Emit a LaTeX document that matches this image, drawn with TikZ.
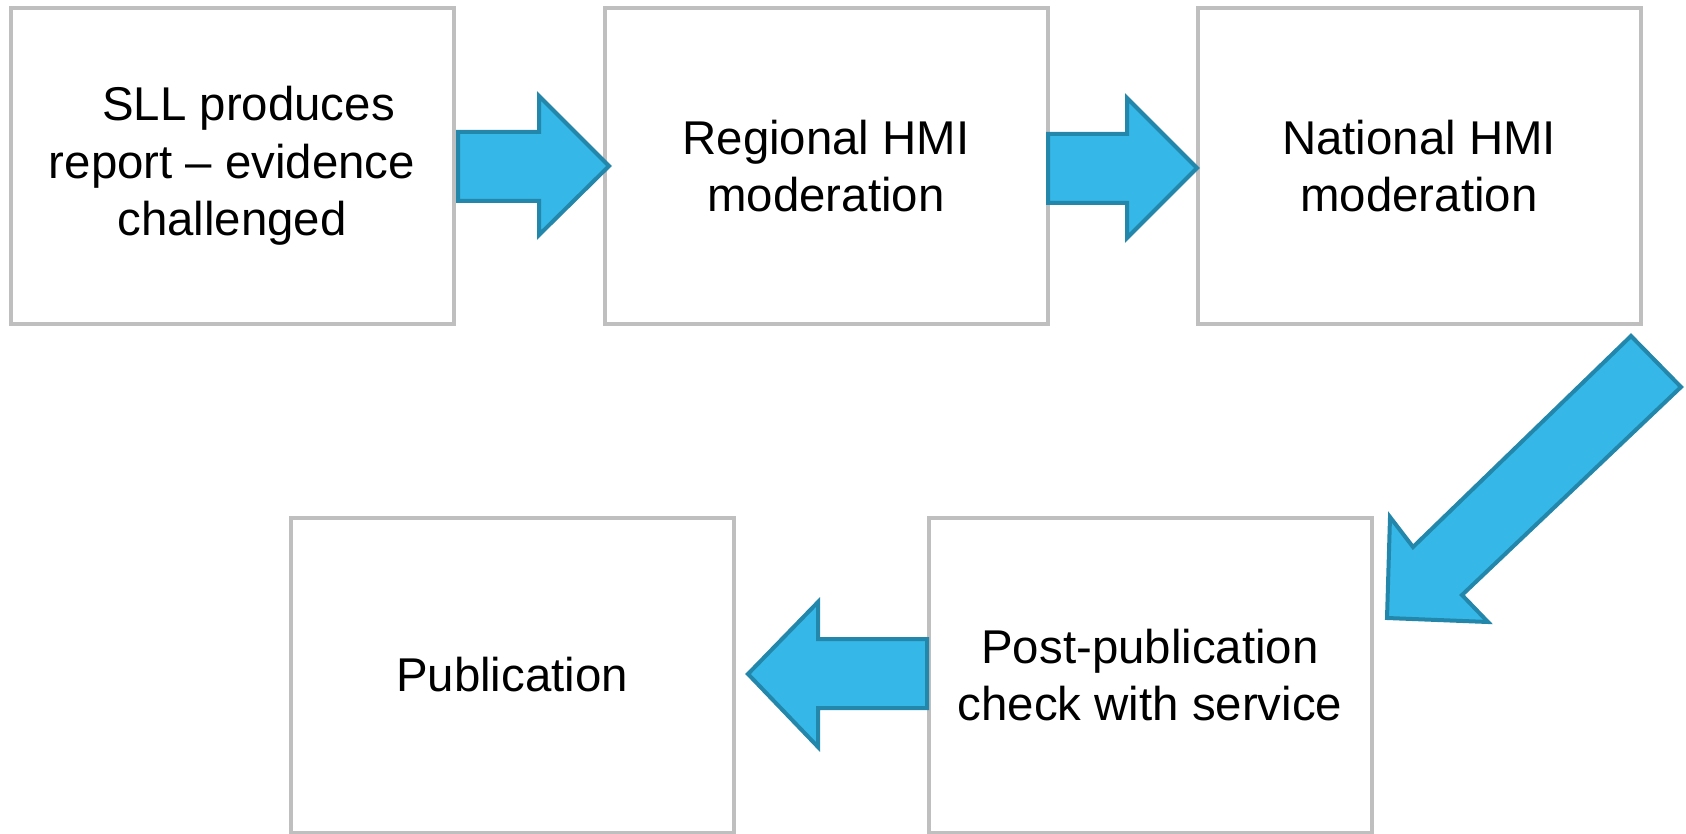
\documentclass[tikz,border=0pt]{standalone}
\usepackage{fontspec}
\setmainfont{Liberation Sans}
\usepackage{tikz}
\usepackage{xcolor}

\definecolor{boxgray}{HTML}{BFBFBF}
\definecolor{arrowfill}{HTML}{35B8E8}
\definecolor{arrowedge}{HTML}{2386AB}

\tikzset{
  stagebox/.style={draw=boxgray, line width=2pt, fill=white,
    minimum width=221.5pt, minimum height=157.5pt, align=center,
    font=\fontsize{23.7pt}{28.7pt}\selectfont},
  blockarrow/.style={fill=arrowfill, draw=arrowedge, line width=2pt, line join=miter}
}

\begin{document}
\begin{tikzpicture}[x=0.5pt,y=-0.5pt]
\useasboundingbox (0,0) rectangle (1686,834);
%% stages
\node[stagebox] (sll) at (232,166) {\hspace*{0.7em}SLL produces\\report -- evidence\\challenged};
\node[stagebox] (regional) at (826,166) {Regional HMI\\moderation};
\node[stagebox] (national) at (1419,166) {National HMI\\moderation};
\node[stagebox] (postpub) at (1150,675) {Post-publication\\check with service};
\node[stagebox] (publication) at (512,675) {Publication};
%% arrows
\draw[blockarrow] (458,132) -- (539,132) -- (539,96) -- (609,166) -- (539,235) -- (539,201) -- (458,201) -- cycle;
\draw[blockarrow] (1048,134) -- (1127,134) -- (1127,98) -- (1197,168) -- (1127,238) -- (1127,203) -- (1048,203) -- cycle;
\draw[blockarrow] (1631,336) -- (1681,387) -- (1462,595) -- (1488,622) -- (1387,618) -- (1390,517) -- (1413,547) -- cycle;
\draw[blockarrow] (927,639) -- (818,639) -- (818,602) -- (748,674) -- (818,747) -- (818,708) -- (927,708) -- cycle;
\end{tikzpicture}
\end{document}
